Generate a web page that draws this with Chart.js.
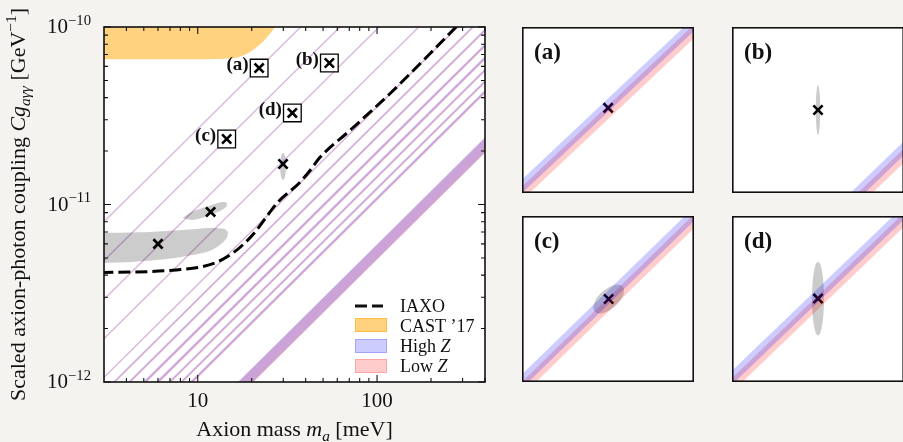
<!DOCTYPE html>
<html>
<head>
<meta charset="utf-8">
<title>Axion benchmark models</title>
<script src="https://cdn.jsdelivr.net/npm/chart.js@4.4.1/dist/chart.umd.min.js"></script>
<style>
  html, body { margin: 0; padding: 0; }
  body { width: 903px; height: 442px; background: #f4f3ef; position: relative; overflow: hidden; }
  canvas { position: absolute; }
</style>
</head>
<body>
<canvas id="main" width="510" height="442" style="left:0;top:0"></canvas>
<canvas id="panel0" width="172" height="166" style="left:522px;top:27px"></canvas>
<canvas id="panel1" width="172" height="166" style="left:732px;top:27px"></canvas>
<canvas id="panel2" width="172" height="166" style="left:522px;top:216px"></canvas>
<canvas id="panel3" width="172" height="166" style="left:732px;top:216px"></canvas>
<script>
const SERIF = '"Liberation Serif", "DejaVu Serif", serif';

// axis limits
const massRange = [3, 400];            // meV
const couplingRange = [1e-12, 1e-10];  // GeV^-1

// model bands: coupling at m_a = 100 meV and half width (decades)
const bandG100 = [2.665e-10, 1.61e-10, 9.73e-11, 5.85e-11, 3.54e-11, 2.92e-11, 2.40e-11, 1.97e-11, 1.67e-11, 1.43e-11, 1.23e-11, 1.08e-11, 5.4e-12];
const bandHalfWidth = [0.0042, 0.0042, 0.0042, 0.0042, 0.0045, 0.006, 0.007, 0.009, 0.009, 0.007, 0.007, 0.009, 0.042];
const zSplit = 0.0022; // High Z sits above, Low Z below (decades)

// IAXO sensitivity
const iaxoMass = [2.9, 5.4, 7.6, 10.3, 12.8, 15.7, 18.3, 20.9, 23.7, 27.7, 37.3, 42.4, 48.2, 71.1, 119, 199, 294];
const iaxoCoupling = [4.14e-12, 4.19e-12, 4.28e-12, 4.44e-12, 4.74e-12, 5.33e-12, 6.07e-12, 7.0e-12, 8.29e-12, 1.02e-11, 1.34e-11, 1.56e-11, 1.85e-11, 2.63e-11, 4.25e-11, 7.14e-11, 1.07e-10];

// CAST '17 exclusion, lower boundary
const castMass = [2.9, 10, 15.7, 19.1, 21.4, 24.4, 27.0, 29.5];
const castCoupling = [6.58e-11, 6.58e-11, 6.66e-11, 7.14e-11, 7.71e-11, 8.78e-11, 1.0e-10, 1.13e-10];

// fit regions
const regionMass = [2.9, 5.38, 8.24, 11.67, 13.99, 14.7, 14.5, 13.28, 11.67, 9.37, 6.70, 4.32, 2.9];
const regionCoupling = [6.91e-12, 7.0e-12, 7.18e-12, 7.37e-12, 7.3e-12, 7.0e-12, 6.48e-12, 5.91e-12, 5.47e-12, 5.19e-12, 4.93e-12, 4.75e-12, 4.68e-12];
const blobMass = [8.24, 9.02, 10.26, 11.98, 13.63, 14.54, 14.35, 12.94, 10.94, 9.37, 8.24];
const blobCoupling = [8.39e-12, 8.96e-12, 9.43e-12, 9.94e-12, 1.033e-11, 1.02e-11, 9.68e-12, 9.07e-12, 8.50e-12, 8.18e-12, 8.39e-12];
const spotMass = 29.9, spotCoupling = 1.64e-11, spotRx = 0.0168, spotRy = 0.076;

// benchmark points (a)-(d)
const benchNames = ['(a)', '(b)', '(c)', '(d)'];
const benchMass = [22.0, 54.2, 14.5, 33.7];
const benchCoupling = [5.87e-11, 6.27e-11, 2.34e-11, 3.28e-11];

// other best-fit points
const fitMass = [6.0, 11.8, 29.9];
const fitCoupling = [6.0e-12, 9.08e-12, 1.69e-11];

// zoom panels: half span (decades) and error ellipses
const panelSpan = 0.05;
const panelEllipseRx = [0, 0.0013, 0.011, 0.0035];
const panelEllipseRy = [0, 0.015, 0.0058, 0.0223];
const panelEllipseRot = [0, 0, -42, 0];

// ticks
const xMajor = [10, 100];
const xMinor = [4, 5, 6, 7, 8, 9, 20, 30, 40, 50, 60, 70, 80, 90, 200, 300, 400];
const yMajor = [1e-12, 1e-11, 1e-10];
const yMinor = [2e-12, 3e-12, 4e-12, 5e-12, 6e-12, 7e-12, 8e-12, 9e-12, 2e-11, 3e-11, 4e-11, 5e-11, 6e-11, 7e-11, 8e-11, 9e-11];
const yExp = ['\u221212', '\u221211', '\u221210'];

const HIGH_Z = 'rgba(0,0,255,0.2)';
const LOW_Z = 'rgba(255,0,0,0.2)';
const CAST = 'rgba(255,165,0,0.5)';
const GREY = 'rgba(0,0,0,0.2)';

const pts = (xs, ys) => xs.map((x, i) => ({x, y: ys[i]}));

function bandDatasets() {
  const sets = [];
  bandG100.forEach((g100, j) => {
    [[zSplit, HIGH_Z], [-zSplit, LOW_Z]].forEach(([shift, color]) => {
      const edge = s => massRange.map(m => ({x: m, y: g100 * Math.pow(10, shift + s * bandHalfWidth[j]) * m / 100}));
      sets.push({data: edge(-1), borderColor: 'transparent', borderWidth: 0, pointRadius: 0, fill: false, order: 5});
      sets.push({data: edge(1), borderColor: 'transparent', borderWidth: 0, pointRadius: 0, fill: '-1', backgroundColor: color, order: 5});
    });
  });
  return sets;
}

// text made of plain / italic / sub / sup pieces
function richText(ctx, parts, x, y, size, align) {
  const fontOf = p => (p.i ? 'italic ' : '') + (p.b ? 'bold ' : '') + ((p.sub || p.sup) ? size * 0.7 : size) + 'px ' + SERIF;
  let w = 0;
  parts.forEach(p => { ctx.font = fontOf(p); w += ctx.measureText(p.t).width; });
  let cx = align === 'center' ? x - w / 2 : align === 'right' ? x - w : x;
  ctx.textAlign = 'left';
  ctx.textBaseline = 'alphabetic';
  parts.forEach(p => {
    ctx.font = fontOf(p);
    const dy = p.sub ? size * 0.22 : p.sup ? -size * 0.4 : 0;
    ctx.fillText(p.t, cx, y + dy);
    cx += ctx.measureText(p.t).width;
  });
}

function drawEllipse(chart, m, g, rx, ry, rot) {
  const {ctx, chartArea: a, scales: {x, y}} = chart;
  const cx = x.getPixelForValue(m), cy = y.getPixelForValue(g);
  const px = Math.abs(x.getPixelForValue(m * Math.pow(10, rx)) - cx);
  const py = Math.abs(y.getPixelForValue(g * Math.pow(10, ry)) - cy);
  ctx.save();
  ctx.beginPath();
  ctx.rect(a.left, a.top, a.right - a.left, a.bottom - a.top);
  ctx.clip();
  ctx.fillStyle = GREY;
  ctx.beginPath();
  ctx.ellipse(cx, cy, px, py, rot * Math.PI / 180, 0, 2 * Math.PI);
  ctx.fill();
  ctx.restore();
}

const mainDecor = {
  id: 'mainDecor',
  beforeDraw(chart) {
    const {ctx, chartArea: a} = chart;
    ctx.save();
    ctx.fillStyle = '#fff';
    ctx.fillRect(a.left, a.top, a.right - a.left, a.bottom - a.top);
    ctx.restore();
  },
  beforeDatasetsDraw(chart) {
    drawEllipse(chart, spotMass, spotCoupling, spotRx, spotRy, 0);
  },
  afterDraw(chart) {
    const {ctx, chartArea: a, scales: {x, y}} = chart;
    ctx.save();
    ctx.strokeStyle = '#111';
    ctx.fillStyle = '#111';
    ctx.lineWidth = 1.6;
    ctx.strokeRect(a.left, a.top, a.right - a.left, a.bottom - a.top);

    // inward ticks on all four sides
    ctx.lineWidth = 1.1;
    ctx.beginPath();
    const xt = (v, len) => {
      const p = x.getPixelForValue(v);
      ctx.moveTo(p, a.bottom); ctx.lineTo(p, a.bottom - len);
      ctx.moveTo(p, a.top); ctx.lineTo(p, a.top + len);
    };
    const yt = (v, len) => {
      const p = y.getPixelForValue(v);
      ctx.moveTo(a.left, p); ctx.lineTo(a.left + len, p);
      ctx.moveTo(a.right, p); ctx.lineTo(a.right - len, p);
    };
    xMajor.forEach(v => xt(v, 7));
    xMinor.forEach(v => xt(v, 4));
    yMajor.forEach(v => yt(v, 7));
    yMinor.forEach(v => yt(v, 4));
    ctx.stroke();

    // tick labels
    xMajor.forEach(v => richText(ctx, [{t: String(v)}], x.getPixelForValue(v), 407, 21, 'center'));
    yMajor.forEach((v, i) => richText(ctx, [{t: '10'}, {t: yExp[i], sup: 1}], 91, y.getPixelForValue(v) + 6, 21, 'right'));

    // axis titles
    richText(ctx, [{t: 'Axion mass '}, {t: 'm', i: 1}, {t: 'a', i: 1, sub: 1}, {t: ' [meV]'}],
      (a.left + a.right) / 2, 436, 22, 'center');
    ctx.save();
    ctx.translate(25, (a.top + a.bottom) / 2);
    ctx.rotate(-Math.PI / 2);
    richText(ctx, [{t: 'Scaled axion-photon coupling '}, {t: 'Cg', i: 1}, {t: 'a\u03b3\u03b3', i: 1, sub: 1},
      {t: ' [GeV'}, {t: '\u22121', sup: 1}, {t: ']'}], 0, 0, 22, 'center');
    ctx.restore();

    // benchmark labels
    benchNames.forEach((name, i) => {
      const bx = x.getPixelForValue(benchMass[i]) - 10.5;
      const by = y.getPixelForValue(benchCoupling[i]) + 2;
      richText(ctx, [{t: name, b: 1}], bx, by, 19, 'right');
    });

    // legend
    ctx.lineWidth = 3;
    ctx.setLineDash([12, 5]);
    ctx.beginPath();
    ctx.moveTo(355, 306); ctx.lineTo(383, 306);
    ctx.stroke();
    ctx.setLineDash([]);
    [[CAST, 318], [HIGH_Z, 339], [LOW_Z, 359]].forEach(([c, top]) => {
      ctx.fillStyle = c;
      ctx.strokeStyle = c;
      ctx.lineWidth = 1;
      ctx.fillRect(355, top, 32, 14);
      ctx.strokeRect(355.5, top + 0.5, 31, 13);
    });
    ctx.fillStyle = '#111';
    richText(ctx, [{t: 'IAXO'}], 400, 311.7, 18, 'left');
    richText(ctx, [{t: 'CAST \u201917'}], 400, 331.7, 18, 'left');
    richText(ctx, [{t: 'High '}, {t: 'Z', i: 1}], 400, 351.7, 18, 'left');
    richText(ctx, [{t: 'Low '}, {t: 'Z', i: 1}], 400, 371.7, 18, 'left');
    ctx.restore();
  }
};

new Chart(document.getElementById('main'), {
  type: 'line',
  data: {
    datasets: [
      ...bandDatasets(),
      {data: pts(castMass, castCoupling), borderColor: 'transparent', borderWidth: 0, pointRadius: 0,
       fill: 'end', backgroundColor: CAST, cubicInterpolationMode: 'monotone', order: 4},
      {data: pts(regionMass, regionCoupling), borderColor: 'transparent', borderWidth: 0, pointRadius: 0,
       fill: 'shape', backgroundColor: GREY, tension: 0.3, order: 3},
      {data: pts(blobMass, blobCoupling), borderColor: 'transparent', borderWidth: 0, pointRadius: 0,
       fill: 'shape', backgroundColor: GREY, tension: 0.3, order: 3},
      {data: pts(iaxoMass, iaxoCoupling), borderColor: '#000', borderWidth: 3, borderDash: [12, 5], pointRadius: 0,
       fill: false, cubicInterpolationMode: 'monotone', order: 2},
      {data: pts(benchMass, benchCoupling), showLine: false, pointStyle: 'rect', pointRadius: 12.5,
       pointBorderWidth: 1.3, pointBorderColor: '#000', borderColor: '#000', pointBackgroundColor: '#fff', order: 1},
      {data: pts(benchMass.concat(fitMass), benchCoupling.concat(fitCoupling)), showLine: false, pointStyle: 'crossRot',
       pointRadius: 6.5, pointBorderWidth: 2.6, pointBorderColor: '#000', borderColor: '#000', order: 0}
    ]
  },
  options: {
    responsive: false,
    animation: false,
    events: [],
    layout: {autoPadding: false, padding: {left: 104, top: 27, right: 25, bottom: 60}},
    scales: {
      x: {type: 'logarithmic', min: massRange[0], max: massRange[1], display: false},
      y: {type: 'logarithmic', min: couplingRange[0], max: couplingRange[1], display: false}
    },
    plugins: {legend: {display: false}, tooltip: {enabled: false}}
  },
  plugins: [mainDecor]
});

// zoomed views around each benchmark
function makePanel(i) {
  const m = benchMass[i], g = benchCoupling[i], f = Math.pow(10, panelSpan);
  const deco = {
    id: 'panelDecor' + i,
    beforeDraw(chart) {
      const {ctx, width, height} = chart;
      ctx.save();
      ctx.fillStyle = '#fff';
      ctx.fillRect(0, 0, width, height);
      ctx.restore();
    },
    beforeDatasetsDraw(chart) {
      if (panelEllipseRx[i] > 0) drawEllipse(chart, m, g, panelEllipseRx[i], panelEllipseRy[i], panelEllipseRot[i]);
    },
    afterDraw(chart) {
      const {ctx, width, height} = chart;
      ctx.save();
      ctx.strokeStyle = '#111';
      ctx.lineWidth = 1.6;
      ctx.strokeRect(0.8, 0.8, width - 1.6, height - 1.6);
      ctx.fillStyle = '#111';
      richText(ctx, [{t: benchNames[i], b: 1}], 12, 32, 23, 'left');
      ctx.restore();
    }
  };
  new Chart(document.getElementById('panel' + i), {
    type: 'line',
    data: {
      datasets: [
        ...bandDatasets(),
        {data: [{x: m, y: g}], showLine: false, pointStyle: 'crossRot', pointRadius: 6.5,
         pointBorderWidth: 2.6, pointBorderColor: '#000', borderColor: '#000', order: 6}
      ]
    },
    options: {
      responsive: false,
      animation: false,
      events: [],
      layout: {autoPadding: false, padding: 0},
      scales: {
        x: {type: 'logarithmic', min: m / f, max: m * f, display: false},
        y: {type: 'logarithmic', min: g / f, max: g * f, display: false}
      },
      plugins: {legend: {display: false}, tooltip: {enabled: false}}
    },
    plugins: [deco]
  });
}
[0, 1, 2, 3].forEach(makePanel);
</script>
</body>
</html>
